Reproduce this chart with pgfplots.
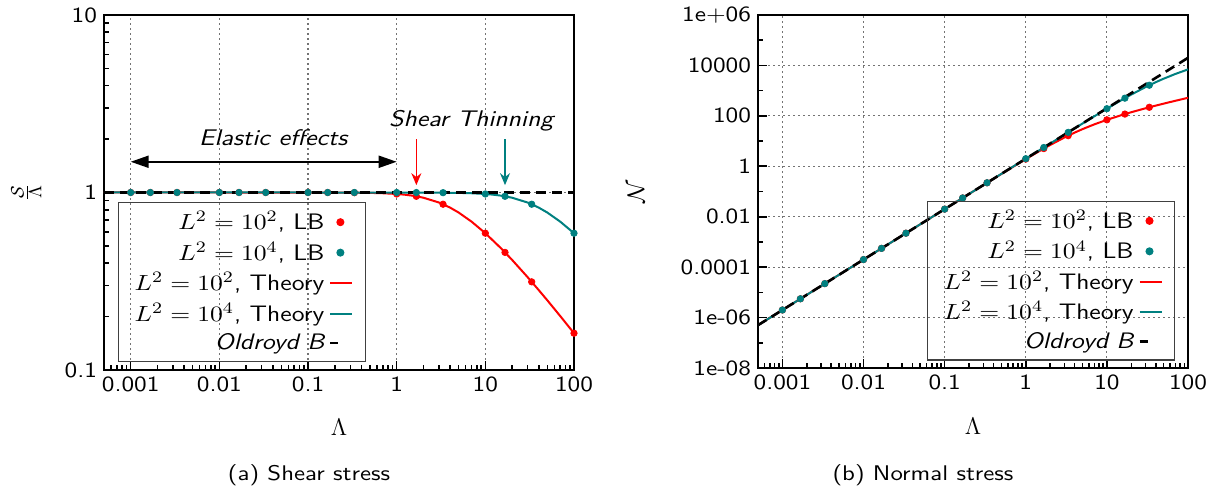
\documentclass[border=0pt]{standalone}
\usepackage{graphicx}
\usepackage{pgfplots}
\pgfplotsset{compat=1.18}
\usetikzlibrary{arrows.meta}
\definecolor{myred}{RGB}{255,0,0}
\definecolor{myteal}{RGB}{0,128,128}
\newcommand{\hs}[1]{\scalebox{1.17}[1]{#1}}

\pgfplotsset{
  myLBred/.style={only marks, mark=*, mark size=1.6pt, color=myred,
    legend image code/.code={\path[draw=none,fill=none] (0pt,0pt) -- (12pt,0pt); \fill[myred] (6pt,0pt) circle (1.7pt);}},
  myLBteal/.style={only marks, mark=*, mark size=1.6pt, color=myteal,
    legend image code/.code={\path[draw=none,fill=none] (0pt,0pt) -- (12pt,0pt); \fill[myteal] (6pt,0pt) circle (1.7pt);}},
  myTHred/.style={no marks, color=myred, line width=1pt,
    legend image code/.code={\draw[##1] (1pt,0pt) -- (12pt,0pt);}},
  myTHteal/.style={no marks, color=myteal, line width=1pt,
    legend image code/.code={\draw[##1] (1pt,0pt) -- (12pt,0pt);}},
  myOB/.style={no marks, black, line width=1.3pt, dash pattern=on 5pt off 3pt,
    legend image code/.code={\draw[##1, solid] (1pt,0pt) -- (5pt,0pt);}},
}

\begin{document}
\begin{tikzpicture}
\useasboundingbox (0pt,0pt) rectangle (609pt,246pt);

% ---------------- (a) Shear stress ----------------
\begin{axis}[
  scale only axis, anchor=south west,
  xmode=log, ymode=log, xmin=0.0005, xmax=100,
  axis line style={line width=1pt},
  tick align=inside, xtick pos=left, ytick pos=left,
  major tick length=4.5pt, minor tick length=2.5pt,
  tick style={black, line width=0.8pt},
  grid=major, grid style={black!55, line width=0.6pt, dash pattern=on 1pt off 1.5pt},
  xtick={0.001,0.01,0.1,1,10,100},
  xticklabels={\hs{0.001},\hs{0.01},\hs{0.1},\hs{1},\hs{10},\hs{100}},
  minor xtick={0.0006,0.0007,0.0008,0.0009,0.002,0.003,0.004,0.005,0.006,0.007,0.008,0.009,
    0.02,0.03,0.04,0.05,0.06,0.07,0.08,0.09,0.2,0.3,0.4,0.5,0.6,0.7,0.8,0.9,
    2,3,4,5,6,7,8,9,20,30,40,50,60,70,80,90},
  tick label style={font=\sffamily\fontsize{10.8}{13}\selectfont},
  xlabel={$\Lambda$},
  label style={font=\fontsize{13}{15}\selectfont},
  legend cell align=right, legend plot pos=right,
  legend style={draw=black!75, fill=none, line width=0.6pt, font=\sffamily\fontsize{11.2}{13.5}\selectfont,
    inner xsep=6pt, inner ysep=2.5pt, row sep=0.6pt, at={(0.0298,0.0225)}, anchor=south west},
  at={(52pt,61pt)}, width=235pt, height=177.5pt,
  ymin=0.1, ymax=10, ytick={0.1,1,10}, yticklabels={\hs{0.1},\hs{1},\hs{10}},
  minor ytick={0.2,0.3,0.4,0.5,0.6,0.7,0.8,0.9,2,3,4,5,6,7,8,9},
  xlabel style={at={(axis description cs:0.5,-0.160)}, anchor=center},
  ylabel={$\frac{\mathcal{S}}{\Lambda}$},
  ylabel style={at={(axis description cs:-0.165,0.5)}, anchor=center},
]
\addplot[myLBred] coordinates {
 (0.001,1) (0.001667,1) (0.003333,1) (0.01,1) (0.01667,1) (0.03333,1)
 (0.1,0.9998) (0.1667,0.9994) (0.3333,0.9978) (1,0.9811) (1.667,0.952)
 (3.333,0.859) (10,0.5898) (16.67,0.4598) (33.33,0.3138) (100,0.1612)};
\addlegendentry{\hs{$L^2=10^2$, LB}}
\addplot[myLBteal] coordinates {
 (0.001,1) (0.001667,1) (0.003333,1) (0.01,1) (0.01667,1) (0.03333,1)
 (0.1,1) (0.1667,1) (0.3333,1) (1,0.9998) (1.667,0.9994)
 (3.333,0.9978) (10,0.9811) (16.67,0.952) (33.33,0.859) (100,0.5898)};
\addlegendentry{\hs{$L^2=10^4$, LB}}
\addplot[myTHred] coordinates {
 (0.0005,1) (0.01,1) (0.1,0.9998) (0.2,0.9992) (0.3,0.9982) (0.5,0.9950)
 (0.7,0.9903) (1,0.9811) (1.2,0.9734) (1.5,0.9602) (2,0.9347) (3,0.8781)
 (4,0.8222) (5,0.7711) (7,0.6850) (10,0.5898) (15,0.4854) (20,0.4176)
 (30,0.3334) (40,0.2820) (50,0.2470) (70,0.2012) (100,0.1612)};
\addlegendentry{\hs{$L^2=10^2$, Theory}}
\addplot[myTHteal] coordinates {
 (0.0005,1) (0.1,1) (1,0.9998) (2,0.9992) (3,0.9982) (5,0.9950) (7,0.9903)
 (10,0.9811) (12,0.9734) (15,0.9602) (20,0.9347) (30,0.8781) (40,0.8222)
 (50,0.7711) (70,0.6850) (100,0.5898)};
\addlegendentry{\hs{$L^2=10^4$, Theory}}
\addplot[myOB] coordinates {(0.0005,1) (100,1)};
\addlegendentry{\hs{\itshape Oldroyd B}}

\draw[{Triangle[length=9pt,width=6pt]}-{Triangle[length=9pt,width=6pt]}, line width=1pt]
  (axis cs:0.001,1.49) -- (axis cs:1,1.49);
\node[font=\sffamily\itshape\fontsize{11.3}{13.5}\selectfont] at (axis cs:0.0406,2.05) {\hs{Elastic effects}};
\node[font=\sffamily\itshape\fontsize{11.3}{13.5}\selectfont] at (axis cs:6.93,2.55) {\hs{Shear Thinning}};
\draw[-{Stealth[length=6pt,width=5pt]}, myred, line width=0.8pt]
  (axis cs:1.667,1.99) -- (axis cs:1.667,1.1);
\draw[-{Stealth[length=6pt,width=5pt]}, myteal, line width=0.8pt]
  (axis cs:16.67,1.99) -- (axis cs:16.67,1.1);
\end{axis}

% ---------------- (b) Normal stress ----------------
\begin{axis}[
  scale only axis, anchor=south west,
  xmode=log, ymode=log, xmin=0.0005, xmax=100,
  axis line style={line width=1pt},
  tick align=inside, xtick pos=left, ytick pos=left,
  major tick length=4.5pt, minor tick length=2.5pt,
  tick style={black, line width=0.8pt},
  grid=major, grid style={black!55, line width=0.6pt, dash pattern=on 1pt off 1.5pt},
  xtick={0.001,0.01,0.1,1,10,100},
  xticklabels={\hs{0.001},\hs{0.01},\hs{0.1},\hs{1},\hs{10},\hs{100}},
  minor xtick={0.0006,0.0007,0.0008,0.0009,0.002,0.003,0.004,0.005,0.006,0.007,0.008,0.009,
    0.02,0.03,0.04,0.05,0.06,0.07,0.08,0.09,0.2,0.3,0.4,0.5,0.6,0.7,0.8,0.9,
    2,3,4,5,6,7,8,9,20,30,40,50,60,70,80,90},
  tick label style={font=\sffamily\fontsize{10.8}{13}\selectfont},
  xlabel={$\Lambda$},
  label style={font=\fontsize{13}{15}\selectfont},
  legend cell align=right, legend plot pos=right,
  legend style={draw=black!75, fill=none, line width=0.6pt, font=\sffamily\fontsize{11.2}{13.5}\selectfont,
    inner xsep=6pt, inner ysep=2.5pt, row sep=0.6pt, at={(0.970,0.0207)}, anchor=south east},
  at={(379pt,62pt)}, width=215pt, height=176.5pt,
  ymin=1e-8, ymax=1e6,
  ytick={1e-8,1e-6,1e-4,1e-2,1,1e2,1e4,1e6},
  yticklabels={\hs{1e-08},\hs{1e-06},\hs{0.0001},\hs{0.01},\hs{1},\hs{100},\hs{10000},\hs{1e+06}},
  minor ytick={1e-7,1e-5,1e-3,1e-1,1e1,1e3,1e5},
  xlabel style={at={(axis description cs:0.5,-0.165)}, anchor=center},
  ylabel={$\mathcal{N}$},
  ylabel style={at={(axis description cs:-0.284,0.5)}, anchor=center},
]
\addplot[myLBred] coordinates {
 (0.001,2e-6) (0.001667,5.556e-6) (0.003333,2.222e-5) (0.01,2e-4)
 (0.01667,5.556e-4) (0.03333,2.222e-3) (0.1,0.02) (0.1667,0.0555)
 (0.3333,0.2212) (1,1.925) (1.667,5.035) (3.333,16.40) (10,69.57)
 (16.67,117.5) (33.33,218.8)};
\addlegendentry{\hs{$L^2=10^2$, LB}}
\addplot[myLBteal] coordinates {
 (0.001,2e-6) (0.001667,5.556e-6) (0.003333,2.222e-5) (0.01,2e-4)
 (0.01667,5.556e-4) (0.03333,2.222e-3) (0.1,0.02) (0.1667,0.05556)
 (0.3333,0.2222) (1,2.0) (1.667,5.55) (3.333,22.12) (10,192.5)
 (16.67,503.5) (33.33,1640)};
\addlegendentry{\hs{$L^2=10^4$, LB}}
\addplot[myTHred] coordinates {
 (0.0005,5e-7) (0.01,2e-4) (0.1,0.019992) (0.2,0.0799) (0.3,0.1794)
 (0.5,0.495) (0.7,0.961) (1,1.925) (1.2,2.729) (1.5,4.149) (2,6.99)
 (3,13.88) (4,21.63) (5,29.73) (7,45.98) (10,69.57) (15,106.0)
 (20,139.5) (30,200.1) (40,254.5) (50,305.0) (70,396.7) (100,520.0)};
\addlegendentry{\hs{$L^2=10^2$, Theory}}
\addplot[myTHteal] coordinates {
 (0.0005,5e-7) (1,2.0) (2,7.987) (3,17.94) (5,49.5) (7,96.1) (10,192.5)
 (12,272.9) (15,414.9) (20,699) (30,1388) (40,2163) (50,2973)
 (70,4598) (100,6957)};
\addlegendentry{\hs{$L^2=10^4$, Theory}}
\addplot[myOB] coordinates {(0.0005,5e-7) (100,20000)};
\addlegendentry{\hs{\itshape Oldroyd B}}
\end{axis}

\node[font=\sffamily\fontsize{10.6}{13}\selectfont] at (154.5pt,8.5pt) {\hs{(a) Shear stress}};
\node[font=\sffamily\fontsize{10.6}{13}\selectfont] at (461.5pt,8.5pt) {\hs{(b) Normal stress}};
\end{tikzpicture}
\end{document}
